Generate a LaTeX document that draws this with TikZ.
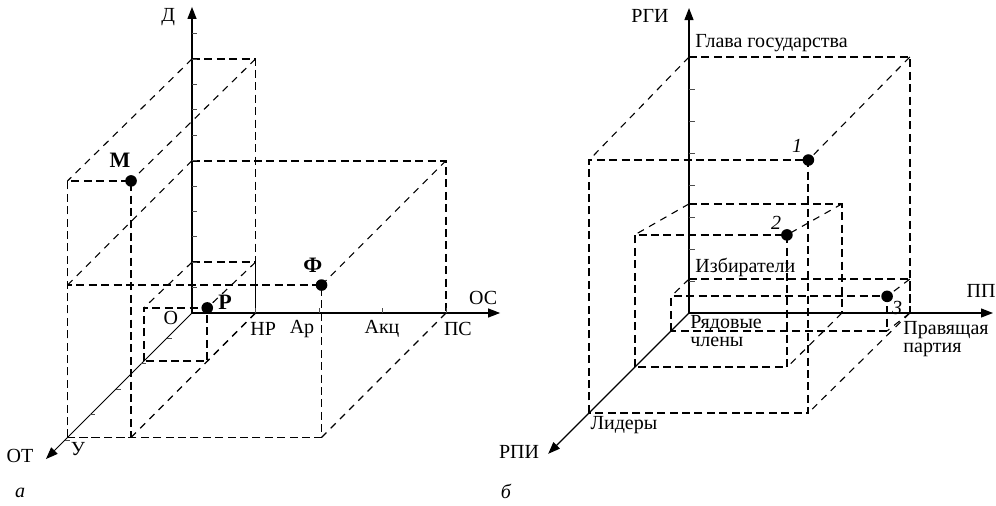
\documentclass[tikz,border=0pt]{standalone}
\usepackage{fontspec}
\setmainfont{Liberation Serif}
\usetikzlibrary{arrows.meta}

\begin{document}
\begin{tikzpicture}[
  axis/.style={line width=0.6pt, -{Triangle[length=6pt,width=4.5pt]}},
  tick/.style={line width=0.5pt, black!70},
  rib/.style={line width=0.95pt, dash pattern=on 4pt off 2.2pt},
  slant/.style={line width=0.55pt, dash pattern=on 3.5pt off 3pt},
  dot/.style={circle, fill, inner sep=0pt, minimum size=5.8pt},
  lbl/.style={inner sep=0pt},
  pointlbl/.style={inner sep=0pt, font={\fontsize{11pt}{13pt}\selectfont\bfseries}},
  twoline/.style={inner sep=0pt, anchor=west, align=left, font={\fontsize{10pt}{9pt}\selectfont}},
]
  \useasboundingbox (0,0) rectangle (498pt,252.5pt);

  % panel a
  \begin{scope}[shift={(96pt,96pt)}, x=12.7pt, y=12.7pt, z={(-12.7pt,-12.7pt)}]
    \foreach \bx/\by/\fx/\fy/\d in {2.5/10/2.5/10.1/4.9, 10/6/10/6/4.9, 2.5/2/2.5/2.1/1.9} {
      \draw[rib] (0,\by,0) -- (\bx,\by,0) -- (\bx,0,0);
      \draw[rib] (0,0,\d) rectangle (\fx,\fy,\d);
      \draw[slant] (0,\by,0) -- (0,\fy,\d) (\bx,\by,0) -- (\fx,\fy,\d) (\bx,0,0) -- (\fx,0,\d);
    }

    \draw[axis] (0,0) -- (0,12.05) coordinate (D);
    \draw[axis] (0,0) -- (12.13,0) coordinate (OS);
    \draw[axis, line width=0.45pt] (0,0,0) -- (0,0,5.75) coordinate (OT);
    \foreach \k in {1,...,11} \draw[tick] (0,\k) -- ++(2.5pt,0);
    \foreach \k in {2.5,5,7.5,10} \draw[tick] (\k,0) -- ++(0,2.5pt);
    \foreach \k in {1,...,5} \draw[tick] (0,0,\k) -- ++(2.5pt,0);

    \node[dot] (M) at (2.5,10.1,4.9) {};
    \node[dot] (F) at (10,6,4.9) {};
    \node[dot] (R) at (2.5,2.1,1.9) {};

    \node[lbl] (lD) at (-0.94,11.65) {Д};
    \node[lbl] (lOS) at (11.46,0.59) {ОС};
    \node[lbl] (lO) at (-0.83,-0.2) {О};
    \node[lbl] (lNR) at (2.8,-0.63) {НР};
    \node[lbl] (lAr) at (4.33,-0.63) {Ар};
    \node[lbl] (lAkc) at (7.48,-0.63) {Акц};
    \node[lbl] (lPS) at (10.47,-0.63) {ПС};
    \node[lbl] (lOT) at (-6.77,-5.63) {ОТ};
    \node[lbl] (lU) at (-4.49,-5.35) {У};
    \node[pointlbl] (lM) at (-2.83,6.0) {М};
    \node[pointlbl] (lF) at (4.76,1.87) {Ф};
    \node[pointlbl] (lR) at (1.3,0.41) {Р};
    \node[lbl, font=\itshape] (la) at (-6.77,-7.09) {а};
  \end{scope}

  % panel b
  \begin{scope}[shift={(344.5pt,96pt)}, x=16pt, y=16pt, z={(-16pt,-16pt)}]
    \foreach \bx/\by/\fx/\fy/\d in {6.9/8/6.85/7.9/3.12, 4.78/3.41/4.76/4.14/1.7, 6.9/1.06/6.75/1.08/0.56} {
      \draw[rib] (0,\by,0) -- (\bx,\by,0) -- (\bx,0,0);
      \draw[rib] (0,0,\d) rectangle (\fx,\fy,\d);
      \draw[slant] (0,\by,0) -- (0,\fy,\d) (\bx,\by,0) -- (\fx,\fy,\d) (\bx,0,0) -- (\fx,0,\d);
    }

    \draw[axis] (0,0) -- (0,9.53) coordinate (RGI);
    \draw[axis] (0,0) -- (9.5,0) coordinate (PP);
    \draw[axis] (0,0,0) -- (0,0,4.4) coordinate (RPI);
    \foreach \k in {1,...,7} \draw[tick] (0,\k) -- ++(3pt,0);

    \node[dot] (p1) at (6.85,7.9,3.12) {};
    \node[dot] (p2) at (4.76,4.14,1.7) {};
    \node[dot] (p3) at (6.75,1.08,0.56) {};

    \node[lbl] (lRGI) at (-1.22,9.28) {РГИ};
    \node[lbl, anchor=west] (lGlava) at (0.19,8.44) {Глава государства};
    \node[lbl, font=\itshape] (l1) at (3.38,5.22) {1};
    \node[lbl, font=\itshape] (l2) at (2.72,2.81) {2};
    \node[lbl, font=\itshape] (l3) at (6.5,0.17) {3};
    \node[lbl, anchor=west] (lIzb) at (0.19,1.41) {Избиратели};
    \node[lbl] (lPP) at (9.13,0.69) {ПП};
    \node[twoline] (lRyad) at (0.03,-0.55) {Рядовые\\члены};
    \node[twoline] (lPrav) at (6.69,-0.8) {Правящая\\партия};
    \node[lbl, anchor=west] (lLid) at (-3.09,-3.5) {Лидеры};
    \node[lbl] (lRPI) at (-5.31,-4.34) {РПИ};
    \node[lbl, font=\itshape] (lb) at (-5.72,-5.59) {б};
  \end{scope}
\end{tikzpicture}
\end{document}
